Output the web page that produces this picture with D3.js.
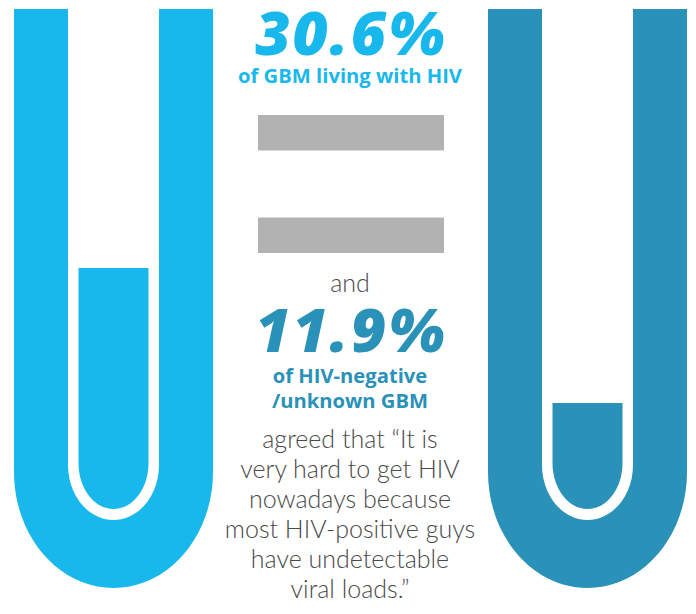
<!DOCTYPE html>
<html>
<head>
<meta charset="utf-8">
<script src="https://cdn.jsdelivr.net/npm/d3@7"></script>
<style>
  html, body { margin: 0; padding: 0; background: #ffffff; }
  svg { display: block; }
</style>
</head>
<body>
<div id="chart"></div>
<script>
// ---- data ----
const groups = ["GBM living with HIV", "HIV-negative/unknown GBM"];
const values = [30.6, 11.9];
const valueLabels = ["30.6%", "11.9%"];
const subLabels = [["of GBM living with HIV"], ["of HIV-negative", "/unknown GBM"]];
const connector = "and";
const statement = [
  "agreed that \u201CIt is",
  "very hard to get HIV",
  "nowadays because",
  "most HIV-positive guys",
  "have undetectable",
  "viral loads.\u201D"
];

// ---- layout ----
const W = 696, H = 614;
const colors = ["#19b8ec", "#2a91b8"];
const textColor = "#4a4a4a";
const grey = "#b2b2b2";

const svg = d3.select("#chart").append("svg")
  .attr("width", W).attr("height", H);

// tube positions
const x = d3.scalePoint().domain(groups).range([113.5, 587.5]);
// fill level scale (percent -> y)
const y = d3.scaleLinear().domain([0, 100]).range([489, -233]);

const K = 0.5523;
function uPath(cx, w, top, ys, yb) {
  const ry = yb - ys;
  const p = d3.path();
  p.moveTo(cx - w, top);
  p.lineTo(cx + w, top);
  p.lineTo(cx + w, ys);
  p.bezierCurveTo(cx + w, ys + K * ry, cx + K * w, yb, cx, yb);
  p.bezierCurveTo(cx - K * w, yb, cx - w, ys + K * ry, cx - w, ys);
  p.closePath();
  return p.toString();
}

const tubeTop = 9;
groups.forEach((g, i) => {
  const cx = x(g);
  const gr = svg.append("g");
  gr.append("path").attr("d", uPath(cx, 99.5, tubeTop, 472, 588)).attr("fill", colors[i]);
  gr.append("path").attr("d", uPath(cx, 45.5, tubeTop - 1, 465, 520)).attr("fill", "#ffffff");
  gr.append("path").attr("d", uPath(cx, 35, y(values[i]), 463, 509)).attr("fill", colors[i]);
});

// equals sign
const eqY = d3.scaleBand().domain([0, 1]).range([115, 253]).paddingInner(0.654);
[0, 1].forEach(d => {
  svg.append("rect")
    .attr("x", 258).attr("width", 186)
    .attr("y", eqY(d)).attr("height", eqY.bandwidth())
    .attr("fill", grey);
});

const cxText = 350;
const lightFont = "Lato, sans-serif";
const boldFont = "'Open Sans', sans-serif";

function big(txt, yb, color) {
  svg.append("text")
    .attr("x", cxText + 1).attr("y", yb)
    .attr("text-anchor", "middle")
    .attr("font-family", boldFont)
    .attr("font-weight", 800).attr("font-style", "italic")
    .attr("font-size", 61)
    .attr("letter-spacing", 2)
    .attr("fill", color)
    .text(txt);
}
function bold(txt, yb, color) {
  svg.append("text")
    .attr("x", cxText).attr("y", yb)
    .attr("text-anchor", "middle")
    .attr("font-family", boldFont)
    .attr("font-weight", 700)
    .attr("font-size", 20.2)
    .attr("fill", color)
    .text(txt);
}

big(valueLabels[0], 55, colors[0]);
subLabels[0].forEach((t, j) => bold(t, 83 + j * 25, colors[0]));

svg.append("text")
  .attr("x", cxText).attr("y", 292)
  .attr("text-anchor", "middle")
  .attr("font-family", lightFont).attr("font-weight", 300)
  .attr("font-size", 25).attr("fill", textColor)
  .text(connector);

big(valueLabels[1], 352, colors[1]);
subLabels[1].forEach((t, j) => bold(t, 383 + j * 25, colors[1]));

statement.forEach((t, j) => {
  svg.append("text")
    .attr("x", cxText).attr("y", 448 + j * 30)
    .attr("text-anchor", "middle")
    .attr("font-family", lightFont).attr("font-weight", 300)
    .attr("font-size", 25).attr("fill", textColor)
    .text(t);
});
</script>
</body>
</html>
